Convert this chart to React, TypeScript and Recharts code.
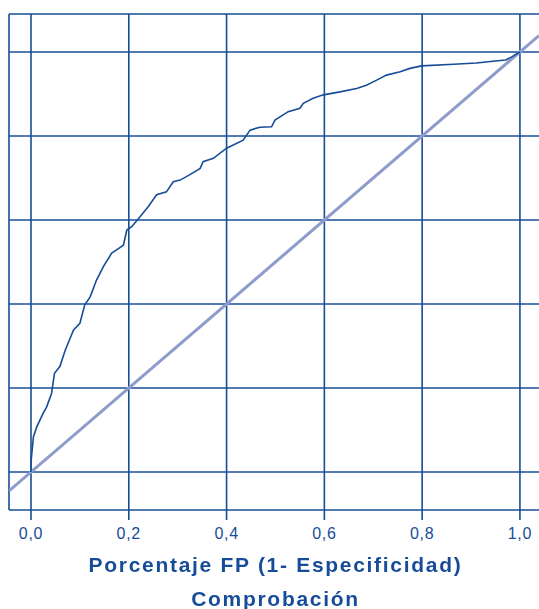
import { LineChart, Line, XAxis, YAxis, ReferenceLine } from "recharts";

// ─── Data ─────────────────────────────────────────────────────────────────────

const FPR = [
  0, 0, 0.001, 0.005, 0.012, 0.025, 0.032, 0.042, 0.048, 0.059, 0.07, 0.087, 0.1,
  0.11, 0.121, 0.134, 0.148, 0.165, 0.175, 0.189, 0.196, 0.206, 0.223, 0.24, 0.257,
  0.277, 0.291, 0.305, 0.325, 0.346, 0.352, 0.373, 0.4, 0.434, 0.448, 0.468, 0.492,
  0.499, 0.526, 0.55, 0.557, 0.577, 0.598, 0.632, 0.666, 0.686, 0.707, 0.727, 0.755,
  0.775, 0.799, 0.864, 0.911, 0.945, 0.971, 0.984, 1,
];
const TPR = [
  0, 0.02, 0.036, 0.084, 0.108, 0.14, 0.155, 0.187, 0.235, 0.251, 0.29, 0.338, 0.354,
  0.398, 0.417, 0.457, 0.489, 0.521, 0.529, 0.54, 0.576, 0.584, 0.608, 0.632, 0.66,
  0.667, 0.691, 0.695, 0.708, 0.723, 0.739, 0.747, 0.771, 0.79, 0.814, 0.821, 0.822,
  0.838, 0.858, 0.866, 0.878, 0.89, 0.898, 0.905, 0.913, 0.921, 0.933, 0.945, 0.953,
  0.961, 0.967, 0.971, 0.974, 0.978, 0.981, 0.989, 1,
];
const TICKS = [0, 0.2, 0.4, 0.6, 0.8, 1];
const X_DOMAIN: [number, number] = [-0.045, 1.039];
const Y_DOMAIN: [number, number] = [-0.0905, 1.0905];

const BLUE = "#174d98";
const REF = "#8e9bcb";
const FONT = "'Liberation Sans', Arial, sans-serif";

const roc = FPR.map((x, i) => ({ x, y: TPR[i] }));
const diag = [
  { x: X_DOMAIN[0], y: X_DOMAIN[0] },
  { x: X_DOMAIN[1], y: X_DOMAIN[1] },
];

const titleStyle = {
  position: "absolute" as const, left: 9, width: 533, textAlign: "center" as const,
  color: BLUE, fontFamily: FONT, fontWeight: 700, fontSize: 21, letterSpacing: 1.7,
  lineHeight: "21px", whiteSpace: "nowrap" as const,
};

export default function App() {
  return (
    <div style={{ position: "fixed", left: 0, top: 0, width: 539, height: 609, background: "#fff" }}>
      <LineChart
        width={539}
        height={609}
        margin={{ top: 14, right: 0, left: 9, bottom: 69 }}
      >
        <XAxis
          type="number"
          dataKey="x"
          domain={X_DOMAIN}
          allowDataOverflow
          ticks={TICKS}
          tickFormatter={(v: number) => v.toFixed(1).replace(".", ",")}
          axisLine={{ stroke: BLUE, strokeWidth: 1.6 }}
          tickLine={{ stroke: BLUE, strokeWidth: 1.6 }}
          tickSize={10}
          tickMargin={8}
          tick={{ fill: BLUE, fontSize: 16, fontFamily: FONT, letterSpacing: 0.7 }}
        />
        <YAxis type="number" dataKey="y" domain={Y_DOMAIN} allowDataOverflow hide />

        {/* frame */}
        <ReferenceLine x={X_DOMAIN[0]} stroke={BLUE} strokeWidth={1.6} ifOverflow="visible" />
        <ReferenceLine y={Y_DOMAIN[1]} stroke={BLUE} strokeWidth={1.6} ifOverflow="visible" />

        {/* grid */}
        {TICKS.map((t) => (
          <ReferenceLine key={`v${t}`} x={t} stroke={BLUE} strokeWidth={1.6} />
        ))}
        {TICKS.map((t) => (
          <ReferenceLine key={`h${t}`} y={t} stroke={BLUE} strokeWidth={1.6} />
        ))}

        <Line
          data={diag}
          dataKey="y"
          type="linear"
          stroke={REF}
          strokeWidth={3}
          dot={false}
          activeDot={false}
          isAnimationActive={false}
        />
        <Line
          data={roc}
          dataKey="y"
          type="linear"
          stroke={BLUE}
          strokeWidth={1.6}
          dot={false}
          activeDot={false}
          isAnimationActive={false}
        />
      </LineChart>

      <div style={{ ...titleStyle, top: 554 }}>Porcentaje FP (1- Especificidad)</div>
      <div style={{ ...titleStyle, top: 588 }}>Comprobación</div>
    </div>
  );
}
